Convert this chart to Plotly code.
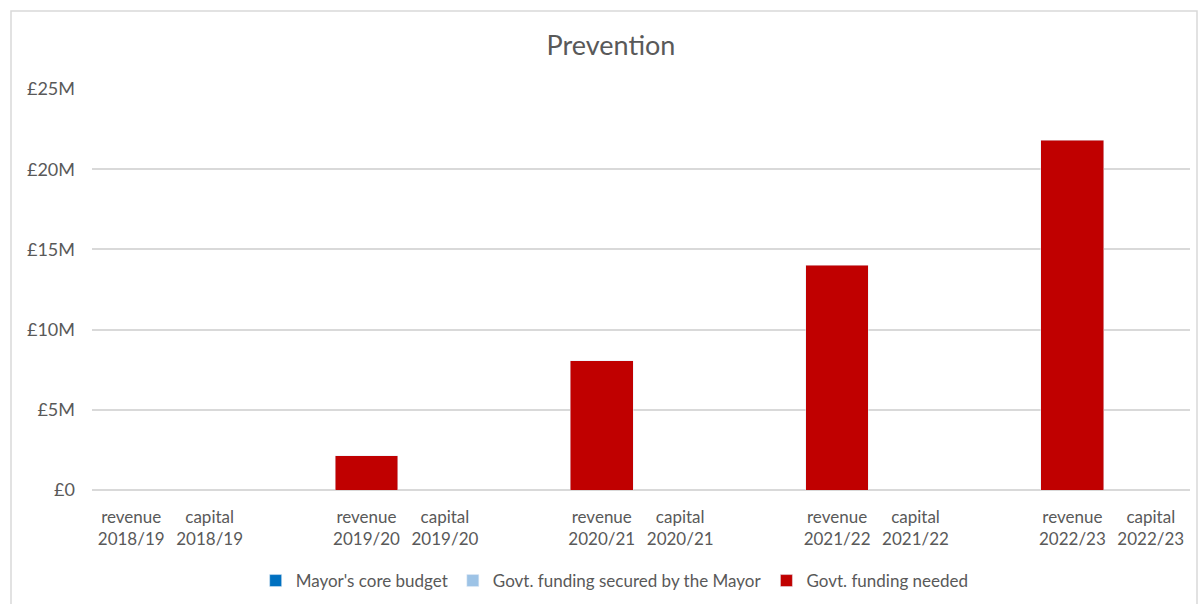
import plotly.graph_objects as go

categories = ["revenue<br>2018/19", "capital<br>2018/19", " ",
              "revenue<br>2019/20", "capital<br>2019/20", "  ",
              "revenue<br>2020/21", "capital<br>2020/21", "   ",
              "revenue<br>2021/22", "capital<br>2021/22", "    ",
              "revenue<br>2022/23", "capital<br>2022/23"]
mayors_core = [0, 0, None, 0, 0, None, 0, 0, None, 0, 0, None, 0, 0]
govt_secured = [0, 0, None, 0, 0, None, 0, 0, None, 0, 0, None, 0, 0]
govt_needed = [0, 0, None, 2.15e6, 0, None, 8.05e6, 0, None, 14.0e6, 0, None, 21.8e6, 0]
y_ticks = [0, 5e6, 10e6, 15e6, 20e6, 25e6]
y_tick_labels = ["£0", "£5M", "£10M", "£15M", "£20M", "£25M"]

FONT = "Lato, 'Open Sans', sans-serif"
GREY = "#595959"

fig = go.Figure()
fig.add_trace(go.Bar(name="Mayor's core budget", x=categories, y=mayors_core,
                     marker_color="#0070C0"))
fig.add_trace(go.Bar(name="Govt. funding secured by the Mayor", x=categories, y=govt_secured,
                     marker_color="#9DC3E6"))
fig.add_trace(go.Bar(name="Govt. funding needed", x=categories, y=govt_needed,
                     marker_color="#C00000"))

fig.update_layout(
    barmode="stack",
    bargap=0.2,
    width=1198, height=604,
    margin=dict(l=92, r=8, t=89, b=114, autoexpand=False),
    paper_bgcolor="white", plot_bgcolor="white",
    font=dict(family=FONT, color=GREY, size=17),
    title=dict(text="Prevention", x=0.51, xanchor="center", y=0.924, yanchor="middle",
               font=dict(size=27, color=GREY, family=FONT)),
    legend=dict(orientation="h", x=0.476, xanchor="center", y=-0.227, yanchor="middle",
                font=dict(size=17, color=GREY), traceorder="normal",
                itemwidth=30),
    showlegend=True,
)
fig.update_xaxes(type="category", showgrid=False, showline=False, ticks="",
                 ticklabelstandoff=15, automargin=False,
                 tickfont=dict(size=17, color=GREY), fixedrange=True)
fig.update_yaxes(range=[0, 25e6], tickvals=y_ticks, ticktext=y_tick_labels,
                 showgrid=True, gridcolor="#D9D9D9", gridwidth=1.5, zeroline=True,
                 zerolinecolor="#D9D9D9", zerolinewidth=1.5,
                 ticks="", ticklabelstandoff=16, automargin=False,
                 tickfont=dict(size=18, color=GREY))

fig.add_shape(type="rect", xref="paper", yref="paper",
              x0=(11 - 92) / 1098, x1=(1197 - 92) / 1098,
              y0=-(620 - 490) / 401, y1=(490 - 11) / 401,
              line=dict(color="#D9D9D9", width=1.5), fillcolor="rgba(0,0,0,0)", layer="below")

fig.write_html("out.html")
